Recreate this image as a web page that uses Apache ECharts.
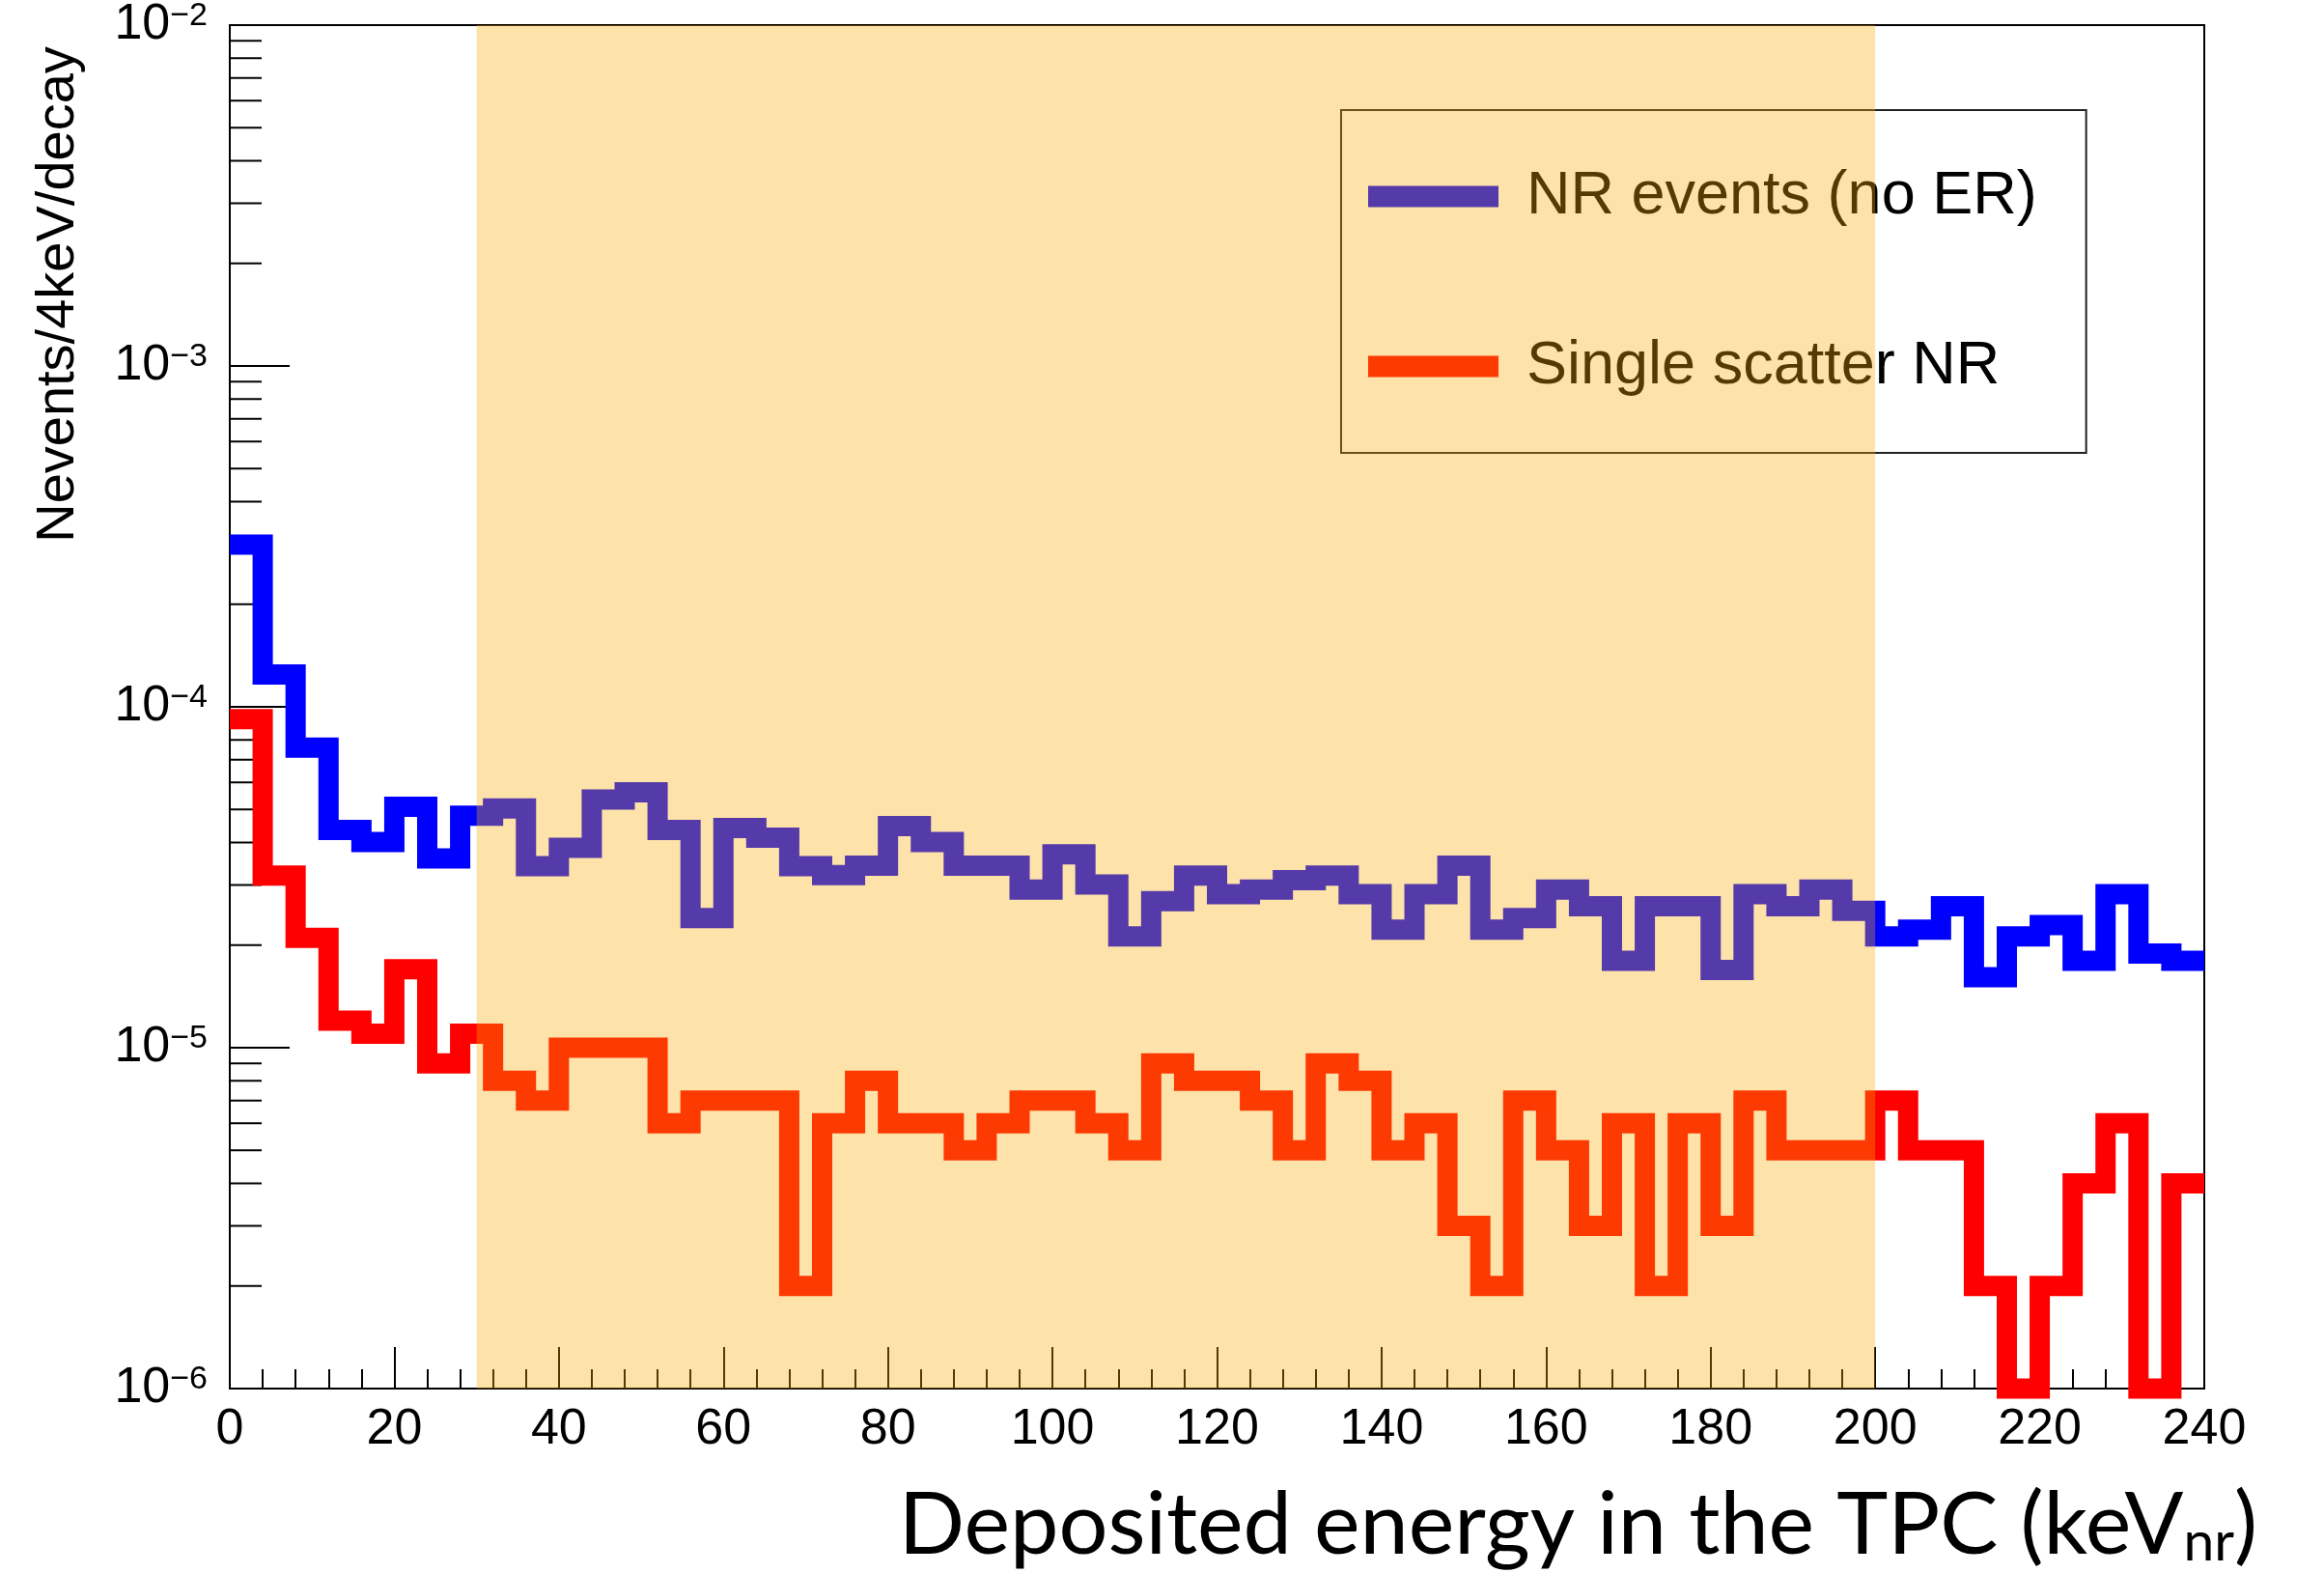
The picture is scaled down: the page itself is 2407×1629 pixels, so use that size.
<!DOCTYPE html>
<html><head><meta charset="utf-8">
<script src="https://cdn.jsdelivr.net/npm/echarts@6/dist/echarts.min.js"></script>
<style>html,body{margin:0;padding:0;background:#fff;}#c{width:2407px;height:1629px;}</style>
</head><body><div id="c"></div>
<script>
// bin lower edges (keV), 4 keV bins
const binLow = [0,4,8,12,16,20,24,28,32,36,40,44,48,52,56,60,64,68,72,76,80,84,88,92,96,100,104,108,112,116,
  120,124,128,132,136,140,144,148,152,156,160,164,168,172,176,180,184,188,192,196,200,204,208,212,216,220,224,228,232,236];
const binEnd = 240;
// NR events (no ER), Nevents/4keV/decay
const nrEvents = [2.99e-4,1.245e-4,7.59e-5,4.35e-5,4.01e-5,5.09e-5,3.59e-5,4.79e-5,5.03e-5,3.41e-5,
  3.86e-5,5.35e-5,5.61e-5,4.35e-5,2.40e-5,4.41e-5,4.13e-5,3.41e-5,3.21e-5,3.42e-5,
  4.47e-5,4.01e-5,3.42e-5,3.42e-5,2.91e-5,3.69e-5,3.01e-5,2.12e-5,2.69e-5,3.20e-5,
  2.82e-5,2.91e-5,3.10e-5,3.20e-5,2.82e-5,2.22e-5,2.82e-5,3.42e-5,2.22e-5,2.40e-5,
  2.91e-5,2.60e-5,1.80e-5,2.60e-5,2.60e-5,1.69e-5,2.82e-5,2.60e-5,2.91e-5,2.52e-5,
  2.12e-5,2.22e-5,2.60e-5,1.61e-5,2.12e-5,2.29e-5,1.80e-5,2.82e-5,1.89e-5,1.80e-5];
// Single scatter NR
const singleScatter = [9.2e-5,3.2e-5,2.1e-5,1.2e-5,1.1e-5,1.7e-5,9e-6,1.1e-5,8e-6,7e-6,
  1.0e-5,1.0e-5,1.0e-5,6e-6,7e-6,7e-6,7e-6,2e-6,6e-6,8e-6,
  6e-6,6e-6,5e-6,6e-6,7e-6,7e-6,6e-6,5e-6,9e-6,8e-6,
  8e-6,7e-6,5e-6,9e-6,8e-6,5e-6,6e-6,3e-6,2e-6,7e-6,
  5e-6,3e-6,6e-6,2e-6,6e-6,3e-6,7e-6,5e-6,5e-6,5e-6,
  7e-6,5e-6,5e-6,2e-6,1e-6,2e-6,4e-6,6e-6,1e-6,4e-6];
const seriesNames = ['NR events (no ER)', 'Single scatter NR'];
const shadedRange = [30, 200];
const xMin = 0, xMax = 240, xStep = 20;
const yMin = 1e-6, yMax = 1e-2;
const yMinorTicks = [2e-6,3e-6,4e-6,5e-6,6e-6,7e-6,8e-6,9e-6,
  2e-5,3e-5,4e-5,5e-5,6e-5,7e-5,8e-5,9e-5,
  2e-4,3e-4,4e-4,5e-4,6e-4,7e-4,8e-4,9e-4,
  2e-3,3e-3,4e-3,5e-3,6e-3,7e-3,8e-3,9e-3];

function stepData(vals){
  const d = binLow.map((x,i)=>[x, vals[i]]);
  d.push([binEnd, vals[vals.length-1]]);
  return d;
}

const chart = echarts.init(document.getElementById('c'), null, {renderer:'canvas'});
const axisCol = '#000';
chart.setOption({
  animation:false,
  backgroundColor:'#fff',
  grid:{left:238,right:124,top:26,bottom:191,show:true,borderColor:axisCol,borderWidth:2,backgroundColor:'rgba(0,0,0,0)'},
  xAxis:{type:'value',min:xMin,max:xMax,interval:xStep,
    axisLine:{show:true,lineStyle:{color:axisCol,width:2}},
    axisTick:{show:true,inside:true,length:43,lineStyle:{color:axisCol,width:2}},
    minorTick:{show:true,splitNumber:5,length:20,lineStyle:{color:axisCol,width:2}},
    splitLine:{show:false},minorSplitLine:{show:false},
    axisLabel:{fontFamily:'Liberation Sans',fontSize:52,color:'#000',margin:17}},
  yAxis:{type:'log',logBase:10,min:yMin,max:yMax,
    axisLine:{show:true,lineStyle:{color:axisCol,width:2}},
    axisTick:{show:true,inside:true,length:62,lineStyle:{color:axisCol,width:2}},
    splitLine:{show:false},
    axisLabel:{margin:23,color:'#000',
      formatter:function(v){const e=Math.round(Math.log10(v));return '{b|10}{s|\u2212'+(-e)+'}';},
      rich:{b:{fontFamily:'Liberation Sans',fontSize:52,color:'#000',verticalAlign:'bottom'},
            s:{fontFamily:'Liberation Sans',fontSize:34,color:'#000',verticalAlign:'top'}}}},
  legend:{show:true,orient:'vertical',left:1389,top:114,padding:[58,51,58,28],itemGap:113,
    itemWidth:135,itemHeight:22,borderColor:'#222',borderWidth:2,backgroundColor:'#fff',
    textStyle:{fontFamily:'Liberation Sans',fontSize:63,color:'#000',lineHeight:62,padding:[0,0,0,24]},
    data:[{name:seriesNames[0],icon:'rect'},{name:seriesNames[1],icon:'rect'}]},
  graphic:[
    {type:'text',x:61,y:305,rotation:Math.PI/2,z:20,
      style:{text:'Nevents/4keV/decay',fontFamily:'Liberation Sans',fontSize:56,fill:'#000',align:'center',verticalAlign:'middle'}},
    {type:'text',x:2338,y:1580,z:20,
      style:{text:'{m|Deposited energy in the TPC (keV}{s|nr}{m|)}',align:'right',verticalAlign:'middle',
        rich:{m:{fontFamily:'Lato',fontSize:90,fill:'#000',lineHeight:92},
              s:{fontFamily:'Lato',fontSize:57,fill:'#000',lineHeight:50,verticalAlign:'bottom'}}}}
  ],
  series:[
    {name:seriesNames[0],type:'line',step:'end',data:stepData(nrEvents),symbol:'none',clip:false,z:3,
      color:'#0000ff',lineStyle:{color:'#0000ff',width:21,join:'miter',cap:'butt'},itemStyle:{color:'#0000ff'}},
    {name:seriesNames[1],type:'line',step:'end',data:stepData(singleScatter),symbol:'none',clip:false,z:3,
      color:'#ff0000',lineStyle:{color:'#ff0000',width:21,join:'miter',cap:'butt'},itemStyle:{color:'#ff0000'}},
    {name:'yMinor',type:'custom',z:2,silent:true,data:yMinorTicks.map(v=>[xMin,v]),
      renderItem:function(params,api){
        const p=api.coord([api.value(0),api.value(1)]);
        return {type:'line',shape:{x1:p[0],y1:p[1],x2:p[0]+33,y2:p[1]},style:{stroke:axisCol,lineWidth:2}};
      }},
    {name:'band',type:'custom',z:10,silent:true,data:[[shadedRange[0],shadedRange[1]]],
      renderItem:function(params,api){
        const a=api.coord([api.value(0),yMax]);
        const b=api.coord([api.value(1),yMin]);
        return {type:'rect',shape:{x:a[0],y:a[1],width:b[0]-a[0],height:b[1]-a[1]},style:{fill:'rgba(249,169,5,0.34)'}};
      }}
  ]
});
</script></body></html>
